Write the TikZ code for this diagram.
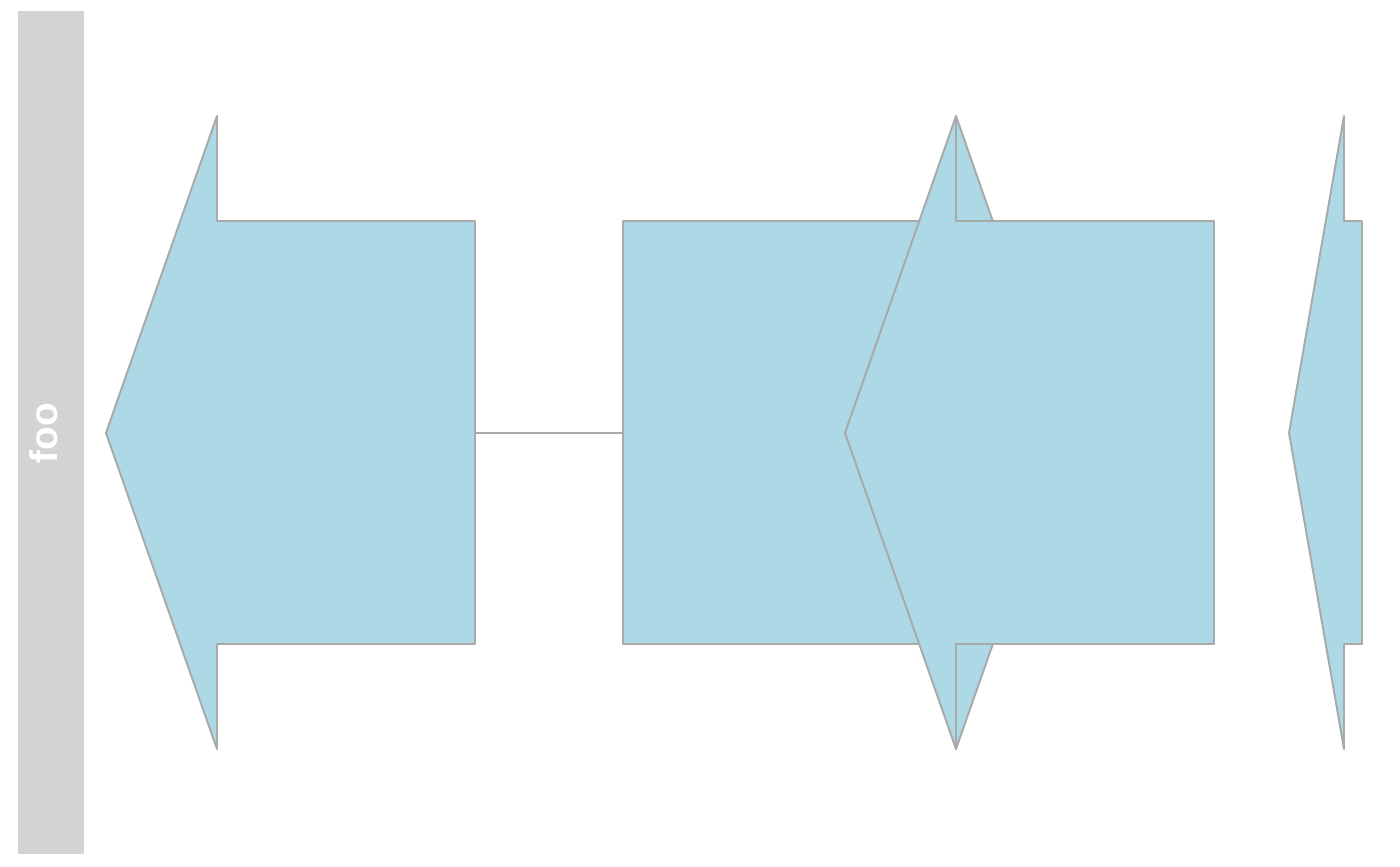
\documentclass[tikz,border=0pt]{standalone}
\usepackage{fontspec}
\setmainfont{Liberation Sans}
\definecolor{genefill}{HTML}{ADD8E6}
\definecolor{geneline}{HTML}{A9A9A9}
\definecolor{stripgray}{HTML}{D3D3D3}
\begin{document}
\begin{tikzpicture}[x=0.01cm, y=-0.01cm,
    gene/.style={fill=genefill, draw=geneline, line width=0.55pt, line join=round},
    molline/.style={draw=geneline, line width=0.55pt}]
    \useasboundingbox[fill=white] (0,0) rectangle (1400,866);

    % Franja lateral
    \fill[stripgray] (18,11) rectangle (84,854);
    \node[rotate=90, text=white, font=\fontsize{11}{13}\selectfont\bfseries] (striplabel) at (44,433) {foo};

    % Línea de la molécula
    \coordinate (g1end) at (475,433);
    \coordinate (g2start) at (623,433);
    \draw[molline] (g1end) -- (g2start);

    % Gen 1 (hacia la izquierda)
    \draw[gene] (106,433) -- (217,116) -- (217,221) -- (475,221) -- (475,644)
        -- (217,644) -- (217,749) -- cycle;

    % Gen 2 (hacia la derecha)
    \draw[gene] (623,221) -- (956,221) -- (956,116) -- (1067,433) -- (956,749)
        -- (956,644) -- (623,644) -- cycle;

    % Gen 3 (hacia la izquierda, encima del gen 2)
    \draw[gene] (845,433) -- (956,116) -- (956,221) -- (1214,221) -- (1214,644)
        -- (956,644) -- (956,749) -- cycle;

    % Gen 4 (hacia la izquierda, corto)
    \draw[gene] (1289,433) -- (1344,116) -- (1344,221) -- (1362,221) -- (1362,644)
        -- (1344,644) -- (1344,749) -- cycle;
\end{tikzpicture}
\end{document}
